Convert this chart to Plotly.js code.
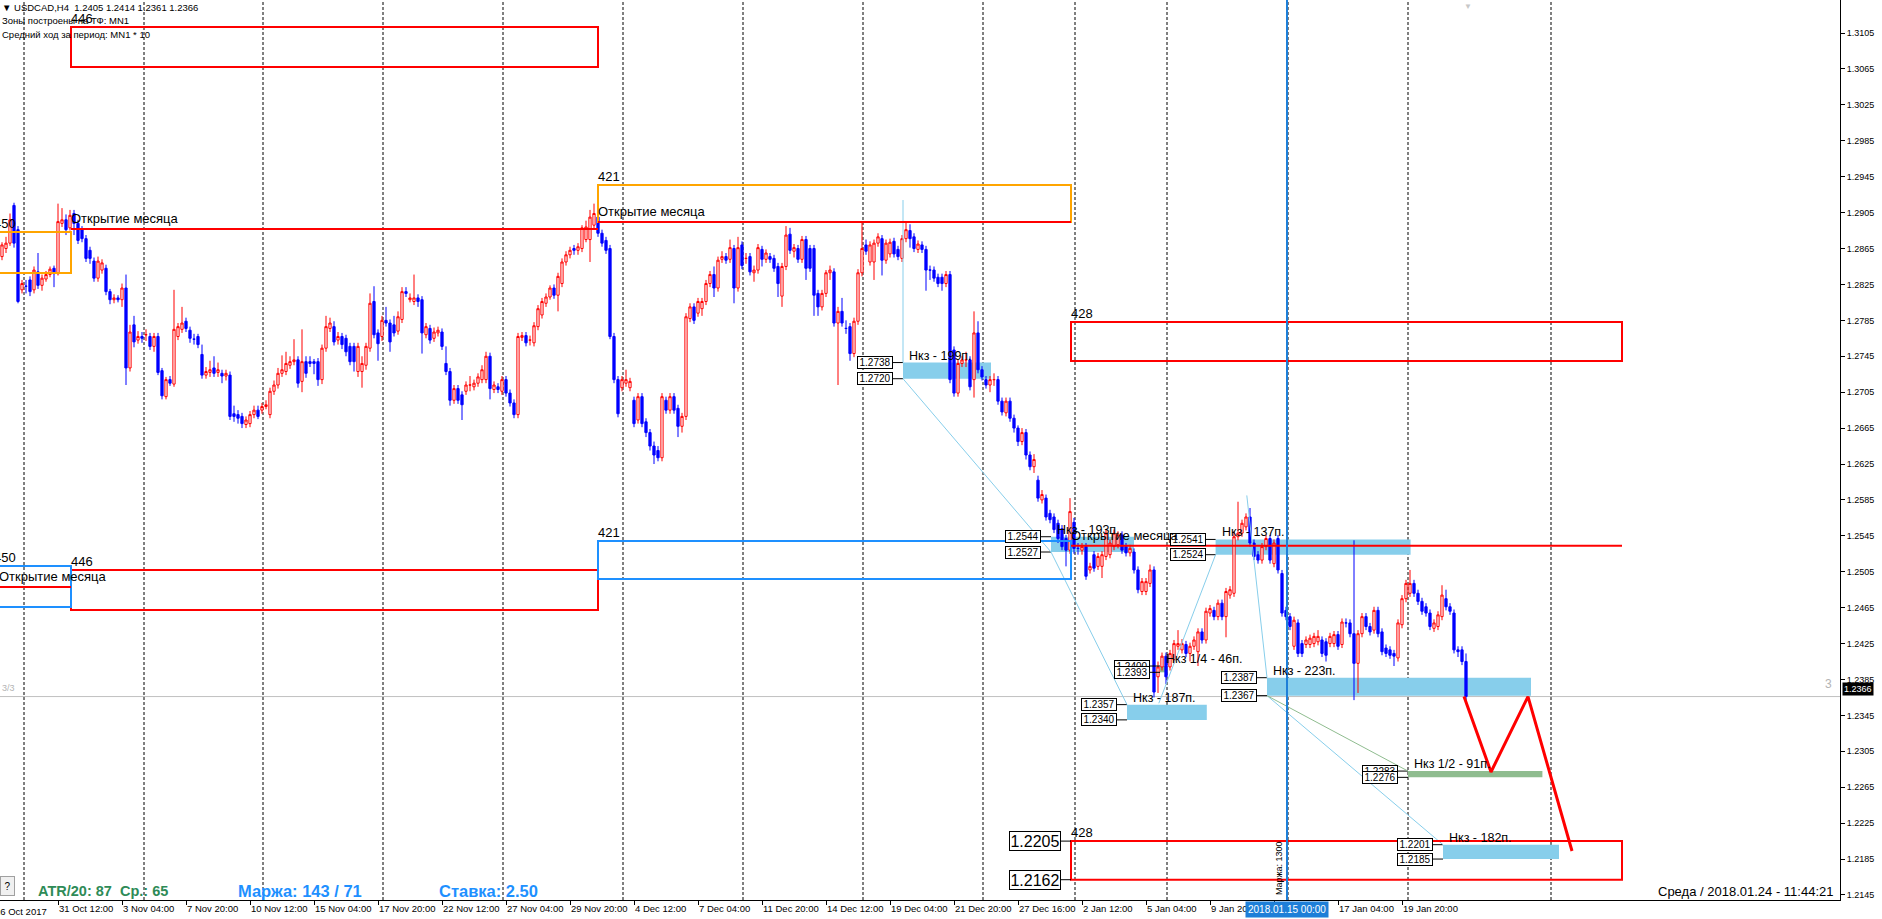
<!DOCTYPE html>
<html><head><meta charset="utf-8">
<script src="https://cdn.plot.ly/plotly-3.0.1.min.js"></script>
<style>html,body{margin:0;padding:0;background:#fff;}#chart{width:1882px;height:919px;}</style>
</head><body><div id="chart"></div>
<script>
// ---------- DATA ----------
// bar index of the first candle, counted from the "31 Oct 12:00" H4 bar
const firstBar = -14;
const open = [
1.2856,1.2865,1.2871,1.2913,1.2886,1.2819,1.2823,1.2830,1.2819,1.2839,
1.2824,1.2831,1.2836,1.2843,1.2837,1.2893,1.2897,1.2888,1.2904,1.2893,
1.2886,1.2876,1.2863,1.2851,1.2832,1.2841,1.2843,1.2817,1.2808,1.2810,
1.2808,1.2821,1.2732,1.2780,1.2763,1.2767,1.2769,1.2767,1.2756,1.2767,
1.2729,1.2700,1.2719,1.2714,1.2767,1.2775,1.2784,1.2774,1.2764,1.2767,
1.2747,1.2724,1.2727,1.2732,1.2727,1.2726,1.2723,1.2724,1.2681,1.2680,
1.2678,1.2669,1.2670,1.2680,1.2685,1.2685,1.2689,1.2680,1.2706,1.2713,
1.2726,1.2728,1.2735,1.2739,1.2741,1.2717,1.2739,1.2739,1.2739,1.2739,
1.2719,1.2754,1.2776,1.2778,1.2763,1.2767,1.2765,1.2756,1.2756,1.2728,
1.2728,1.2735,1.2754,1.2806,1.2771,1.2767,1.2785,1.2782,1.2780,1.2773,
1.2786,1.2817,1.2808,1.2806,1.2810,1.2808,1.2769,1.2776,1.2765,1.2771,
1.2772,1.2737,1.2728,1.2696,1.2709,1.2702,1.2706,1.2713,1.2711,1.2715,
1.2719,1.2719,1.2745,1.2708,1.2711,1.2706,1.2719,1.2704,1.2693,1.2680,
1.2766,1.2768,1.2763,1.2760,1.2778,1.2791,1.2804,1.2811,1.2821,1.2813,
1.2826,1.2850,1.2858,1.2865,1.2863,1.2865,1.2875,1.2875,1.2891,1.2900,
1.2882,1.2874,1.2865,1.2767,1.2719,1.2710,1.2715,1.2710,1.2696,1.2674,
1.2700,1.2672,1.2660,1.2645,1.2640,1.2632,1.2696,1.2685,1.2700,1.2687,
1.2667,1.2678,1.2787,1.2800,1.2793,
1.2798,1.2806,1.2826,1.2836,1.2821,1.2853,1.2856,1.2853,1.2865,1.2821,
1.2869,1.2854,1.2856,1.2838,1.2841,1.2864,1.2853,1.2856,1.2854,1.2845,
1.2812,1.2845,1.2881,1.2862,1.2865,1.2853,1.2875,1.2865,1.2865,1.2815,
1.2800,1.2815,1.2838,1.2839,1.2782,1.2795,1.2776,1.2778,1.2748,1.2784,
1.2838,1.2869,1.2850,1.2850,1.2871,1.2876,1.2852,1.2859,1.2873,1.2864,
1.2854,1.2876,1.2885,1.2878,1.2864,1.2869,1.2864,1.2841,1.2841,1.2833,
1.2833,1.2826,1.2836,1.2752,1.2704,1.2737,1.2741,1.2741,1.2719,1.2771,
1.2730,1.2719,1.2713,1.2719,1.2719,1.2695,1.2682,1.2695,1.2676,1.2665,
1.2650,1.2660,1.2635,1.2622,1.2607,1.2585,1.2587,1.2570,1.2566,1.2559,
1.2553,1.2542,1.2529,1.2560,1.2531,1.2529,1.2533,1.2507,1.2524,1.2511,
1.2511,1.2522,1.2524,1.2533,1.2535,1.2546,1.2533,1.2526,1.2527,1.2507,
1.2483,1.2483,1.2492,1.2507,1.2388,1.2399,1.2411,1.2399,1.2407,1.2422,
1.2418,1.2424,1.2414,1.2422,1.2416,1.2438,1.2429,1.2459,1.2462,1.2455,
1.2470,1.2455,1.2479,1.2481,1.2544,1.2548,1.2555,1.2566,1.2537,1.2524,
1.2518,1.2533,1.2542,1.2514,1.2542,1.2503,1.2462,1.2455,1.2422,1.2448,
1.2425,1.2424,1.2424,1.2425,1.2427,1.2429,1.2427,1.2425,1.2425,1.2435,
1.2424,1.2448,1.2448,1.2436,1.2403,1.2436,1.2455,1.2444,1.2440,1.2462,
1.2438,1.2420,1.2418,1.2414,1.2409,1.2446,1.2475,1.2481,1.2492,1.2481,
1.2472,1.2466,1.2459,1.2442,1.2444,1.2455,1.2475,1.2466,1.2459,1.2418,
1.2418,1.2405];
const high = [
1.2872,1.2878,1.2904,1.2916,1.2890,1.2830,1.2830,1.2834,1.2845,1.2860,
1.2836,1.2840,1.2845,1.2846,1.2915,1.2910,1.2903,1.2908,1.2908,1.2897,
1.2890,1.2880,1.2867,1.2855,1.2856,1.2853,1.2847,1.2820,1.2814,1.2813,
1.2826,1.2836,1.2780,1.2790,1.2773,1.2772,1.2775,1.2771,1.2771,1.2771,
1.2732,1.2722,1.2723,1.2819,1.2782,1.2800,1.2788,1.2778,1.2770,1.2770,
1.2758,1.2733,1.2740,1.2745,1.2738,1.2730,1.2730,1.2728,1.2690,1.2685,
1.2682,1.2678,1.2684,1.2690,1.2690,1.2693,1.2696,1.2710,1.2718,1.2732,
1.2746,1.2750,1.2745,1.2764,1.2745,1.2775,1.2745,1.2745,1.2742,1.2743,
1.2758,1.2790,1.2788,1.2784,1.2772,1.2771,1.2769,1.2760,1.2760,1.2760,
1.2745,1.2760,1.2815,1.2823,1.2775,1.2790,1.2800,1.2786,1.2790,1.2795,
1.2822,1.2822,1.2815,1.2836,1.2814,1.2812,1.2782,1.2780,1.2777,1.2778,
1.2776,1.2756,1.2732,1.2713,1.2713,1.2706,1.2717,1.2723,1.2719,1.2726,
1.2735,1.2750,1.2749,1.2717,1.2715,1.2723,1.2723,1.2708,1.2697,1.2771,
1.2772,1.2772,1.2768,1.2783,1.2802,1.2810,1.2815,1.2824,1.2825,1.2838,
1.2854,1.2862,1.2867,1.2869,1.2871,1.2891,1.2896,1.2908,1.2915,1.2904,
1.2886,1.2878,1.2869,1.2771,1.2723,1.2723,1.2730,1.2721,1.2700,1.2704,
1.2704,1.2676,1.2664,1.2650,1.2645,1.2704,1.2700,1.2704,1.2704,1.2691,
1.2682,1.2793,1.2804,1.2804,1.2810,
1.2810,1.2830,1.2840,1.2845,1.2856,1.2862,1.2860,1.2875,1.2869,1.2878,
1.2873,1.2860,1.2860,1.2846,1.2870,1.2868,1.2864,1.2860,1.2858,1.2849,
1.2849,1.2890,1.2888,1.2870,1.2869,1.2879,1.2879,1.2869,1.2869,1.2819,
1.2819,1.2841,1.2846,1.2843,1.2800,1.2810,1.2785,1.2782,1.2788,1.2842,
1.2895,1.2875,1.2873,1.2875,1.2882,1.2880,1.2875,1.2876,1.2877,1.2868,
1.2880,1.2895,1.2892,1.2882,1.2874,1.2873,1.2868,1.2846,1.2845,1.2837,
1.2837,1.2840,1.2840,1.2756,1.2741,1.2745,1.2750,1.2745,1.2795,1.2784,
1.2734,1.2723,1.2723,1.2726,1.2723,1.2699,1.2699,1.2699,1.2680,1.2668,
1.2665,1.2664,1.2639,1.2636,1.2612,1.2596,1.2591,1.2574,1.2570,1.2563,
1.2557,1.2546,1.2587,1.2565,1.2537,1.2537,1.2537,1.2515,1.2528,1.2526,
1.2528,1.2552,1.2541,1.2552,1.2550,1.2550,1.2537,1.2535,1.2531,1.2511,
1.2498,1.2498,1.2513,1.2511,1.2405,1.2415,1.2415,1.2418,1.2429,1.2440,
1.2430,1.2428,1.2426,1.2433,1.2442,1.2442,1.2465,1.2468,1.2466,1.2474,
1.2474,1.2487,1.2489,1.2550,1.2583,1.2563,1.2570,1.2576,1.2541,1.2528,
1.2537,1.2546,1.2546,1.2541,1.2546,1.2507,1.2466,1.2459,1.2455,1.2452,
1.2429,1.2433,1.2435,1.2437,1.2440,1.2433,1.2431,1.2437,1.2439,1.2439,
1.2453,1.2453,1.2452,1.2540,1.2440,1.2459,1.2459,1.2448,1.2466,1.2466,
1.2442,1.2424,1.2422,1.2418,1.2452,1.2479,1.2496,1.2507,1.2496,1.2485,
1.2476,1.2470,1.2463,1.2452,1.2461,1.2490,1.2485,1.2470,1.2463,1.2422,
1.2422,1.2414];
const low = [
1.2852,1.2860,1.2868,1.2866,1.2804,1.2815,1.2815,1.2812,1.2815,1.2820,
1.2818,1.2828,1.2833,1.2822,1.2835,1.2889,1.2880,1.2885,1.2880,1.2870,
1.2872,1.2850,1.2848,1.2828,1.2828,1.2837,1.2813,1.2803,1.2804,1.2805,
1.2800,1.2713,1.2728,1.2755,1.2759,1.2760,1.2762,1.2752,1.2750,1.2724,
1.2697,1.2697,1.2712,1.2711,1.2763,1.2771,1.2772,1.2760,1.2758,1.2754,
1.2720,1.2720,1.2722,1.2722,1.2722,1.2715,1.2718,1.2674,1.2672,1.2670,
1.2665,1.2665,1.2666,1.2676,1.2675,1.2681,1.2686,1.2676,1.2702,1.2709,
1.2722,1.2724,1.2731,1.2735,1.2710,1.2705,1.2721,1.2733,1.2725,1.2712,
1.2714,1.2750,1.2772,1.2757,1.2758,1.2753,1.2745,1.2735,1.2728,1.2722,
1.2710,1.2730,1.2750,1.2765,1.2740,1.2762,1.2778,1.2750,1.2767,1.2769,
1.2782,1.2811,1.2805,1.2802,1.2800,1.2748,1.2765,1.2759,1.2761,1.2767,
1.2752,1.2724,1.2690,1.2692,1.2692,1.2674,1.2702,1.2706,1.2707,1.2711,
1.2715,1.2715,1.2697,1.2704,1.2704,1.2702,1.2700,1.2689,1.2676,1.2676,
1.2762,1.2756,1.2757,1.2756,1.2774,1.2787,1.2800,1.2808,1.2809,1.2795,
1.2822,1.2846,1.2854,1.2858,1.2858,1.2861,1.2872,1.2850,1.2887,1.2878,
1.2867,1.2859,1.2764,1.2715,1.2677,1.2706,1.2711,1.2706,1.2666,1.2670,
1.2666,1.2655,1.2640,1.2625,1.2628,1.2628,1.2681,1.2681,1.2681,1.2655,
1.2660,1.2674,1.2783,1.2781,1.2789,
1.2790,1.2802,1.2822,1.2811,1.2817,1.2849,1.2848,1.2849,1.2804,1.2817,
1.2842,1.2848,1.2835,1.2828,1.2837,1.2845,1.2849,1.2849,1.2839,1.2811,
1.2800,1.2841,1.2859,1.2855,1.2849,1.2849,1.2830,1.2839,1.2790,1.2790,
1.2796,1.2811,1.2830,1.2778,1.2713,1.2778,1.2770,1.2740,1.2744,1.2780,
1.2834,1.2858,1.2846,1.2830,1.2867,1.2835,1.2848,1.2855,1.2855,1.2852,
1.2850,1.2872,1.2866,1.2861,1.2860,1.2860,1.2818,1.2830,1.2828,1.2822,
1.2818,1.2822,1.2715,1.2700,1.2700,1.2733,1.2733,1.2707,1.2699,1.2726,
1.2718,1.2709,1.2705,1.2712,1.2691,1.2679,1.2678,1.2672,1.2660,1.2645,
1.2646,1.2630,1.2618,1.2615,1.2583,1.2581,1.2562,1.2559,1.2548,1.2537,
1.2529,1.2511,1.2525,1.2525,1.2524,1.2524,1.2496,1.2503,1.2505,1.2507,
1.2498,1.2518,1.2520,1.2529,1.2531,1.2525,1.2522,1.2522,1.2503,1.2481,
1.2479,1.2479,1.2488,1.2365,1.2370,1.2395,1.2380,1.2395,1.2403,1.2418,
1.2414,1.2410,1.2405,1.2418,1.2400,1.2425,1.2425,1.2455,1.2451,1.2451,
1.2451,1.2432,1.2475,1.2477,1.2540,1.2544,1.2551,1.2533,1.2518,1.2514,
1.2514,1.2529,1.2514,1.2510,1.2503,1.2455,1.2451,1.2440,1.2418,1.2410,
1.2410,1.2420,1.2420,1.2421,1.2423,1.2410,1.2405,1.2421,1.2421,1.2418,
1.2420,1.2443,1.2432,1.2362,1.2370,1.2432,1.2440,1.2434,1.2436,1.2432,
1.2412,1.2410,1.2408,1.2400,1.2405,1.2442,1.2471,1.2477,1.2477,1.2468,
1.2457,1.2455,1.2440,1.2438,1.2440,1.2451,1.2462,1.2457,1.2414,1.2410,
1.2401,1.2361];
const close = [
1.2869,1.2871,1.2897,1.2871,1.2806,1.2826,1.2823,1.2817,1.2841,1.2824,
1.2832,1.2836,1.2842,1.2837,1.2895,1.2897,1.2886,1.2902,1.2893,1.2874,
1.2876,1.2854,1.2854,1.2832,1.2851,1.2849,1.2817,1.2808,1.2810,1.2808,
1.2821,1.2732,1.2772,1.2761,1.2767,1.2765,1.2769,1.2756,1.2767,1.2727,
1.2701,1.2719,1.2715,1.2775,1.2778,1.2782,1.2776,1.2765,1.2764,1.2758,
1.2724,1.2728,1.2730,1.2726,1.2730,1.2723,1.2726,1.2678,1.2678,1.2676,
1.2670,1.2674,1.2680,1.2685,1.2678,1.2689,1.2691,1.2706,1.2713,1.2726,
1.2730,1.2737,1.2739,1.2741,1.2715,1.2739,1.2726,1.2737,1.2737,1.2719,
1.2754,1.2778,1.2782,1.2761,1.2767,1.2758,1.2750,1.2739,1.2739,1.2756,
1.2737,1.2756,1.2804,1.2769,1.2759,1.2785,1.2782,1.2761,1.2771,1.2789,
1.2817,1.2815,1.2810,1.2810,1.2806,1.2771,1.2778,1.2763,1.2772,1.2774,
1.2756,1.2728,1.2696,1.2709,1.2696,1.2691,1.2713,1.2713,1.2715,1.2722,
1.2730,1.2745,1.2709,1.2713,1.2708,1.2719,1.2704,1.2693,1.2680,1.2767,
1.2768,1.2760,1.2763,1.2779,1.2798,1.2806,1.2811,1.2821,1.2813,1.2834,
1.2850,1.2858,1.2863,1.2863,1.2867,1.2888,1.2889,1.2900,1.2904,1.2882,
1.2871,1.2863,1.2767,1.2719,1.2681,1.2719,1.2719,1.2717,1.2670,1.2700,
1.2670,1.2660,1.2645,1.2635,1.2632,1.2700,1.2685,1.2700,1.2685,1.2667,
1.2678,1.2789,1.2800,1.2785,1.2806,
1.2806,1.2826,1.2836,1.2821,1.2852,1.2856,1.2852,1.2866,1.2821,1.2866,
1.2846,1.2854,1.2839,1.2841,1.2866,1.2853,1.2860,1.2853,1.2843,1.2826,
1.2845,1.2880,1.2863,1.2866,1.2853,1.2875,1.2843,1.2843,1.2813,1.2800,
1.2815,1.2838,1.2841,1.2782,1.2795,1.2782,1.2776,1.2748,1.2784,1.2838,
1.2865,1.2862,1.2869,1.2871,1.2878,1.2852,1.2871,1.2872,1.2859,1.2856,
1.2876,1.2886,1.2876,1.2865,1.2870,1.2864,1.2841,1.2841,1.2832,1.2826,
1.2826,1.2836,1.2719,1.2704,1.2737,1.2741,1.2741,1.2711,1.2771,1.2730,
1.2722,1.2713,1.2719,1.2719,1.2695,1.2683,1.2695,1.2676,1.2665,1.2650,
1.2660,1.2635,1.2622,1.2630,1.2587,1.2591,1.2566,1.2563,1.2552,1.2542,
1.2533,1.2529,1.2572,1.2531,1.2531,1.2533,1.2500,1.2511,1.2509,1.2522,
1.2524,1.2548,1.2537,1.2548,1.2546,1.2529,1.2526,1.2531,1.2507,1.2485,
1.2494,1.2494,1.2507,1.2371,1.2399,1.2411,1.2388,1.2414,1.2425,1.2425,
1.2425,1.2414,1.2422,1.2429,1.2438,1.2429,1.2461,1.2464,1.2455,1.2470,
1.2455,1.2483,1.2485,1.2544,1.2548,1.2559,1.2566,1.2537,1.2522,1.2518,
1.2533,1.2542,1.2518,1.2537,1.2507,1.2459,1.2455,1.2444,1.2451,1.2414,
1.2414,1.2429,1.2431,1.2433,1.2433,1.2414,1.2412,1.2433,1.2435,1.2422,
1.2449,1.2448,1.2436,1.2403,1.2436,1.2455,1.2444,1.2438,1.2462,1.2436,
1.2416,1.2414,1.2412,1.2411,1.2448,1.2475,1.2492,1.2492,1.2481,1.2472,
1.2461,1.2459,1.2444,1.2448,1.2457,1.2479,1.2466,1.2461,1.2418,1.2416,
1.2405,1.2366];

// time axis labels (one every 16 H4 bars)
const timeTickBars = [0,16,32,48,64,80,96,112,128,144,160,176,192,208,224,240,256,272,288,304,320,336];
const timeTickLabels = ["31 Oct 12:00","3 Nov 04:00","7 Nov 20:00","10 Nov 12:00","15 Nov 04:00","17 Nov 20:00",
 "22 Nov 12:00","27 Nov 04:00","29 Nov 20:00","4 Dec 12:00","7 Dec 04:00","11 Dec 20:00","14 Dec 12:00",
 "19 Dec 04:00","21 Dec 20:00","27 Dec 16:00","2 Jan 12:00","5 Jan 04:00","9 Jan 20:00","","17 Jan 04:00","19 Jan 20:00"];
const firstDateLabel = "26 Oct 2017";
// weekly separators (bar positions)
const weekSeparators = [-8.5,21.5,51.25,81.25,111.25,141.25,171.25,201.25,231.25,254.25,277.25,307.5,337.5,373.25];
// price axis
const priceTicks = [1.2145,1.2185,1.2225,1.2265,1.2305,1.2345,1.2385,1.2425,1.2465,1.2505,1.2545,1.2585,1.2625,
 1.2665,1.2705,1.2745,1.2785,1.2825,1.2865,1.2905,1.2945,1.2985,1.3025,1.3065,1.3105];
const lastPrice = 1.2366;

// monthly zones (boxes)
const boxNames  = ["446","450","421","428","446","450","421","428"];
const boxStart  = [3.25,-16,135,253.25,3.25,-16,135,253.25];
const boxEnd    = [135,3.25,253.25,391,135,3.25,253.25,391];
const boxTop    = [1.31117,1.28834,1.29357,1.27831,1.25069,1.25114,1.25392,1.2205];
const boxBottom = [1.30671,1.28377,1.28945,1.27397,1.24624,1.24657,1.24969,1.2162];
const boxColors = ["#ff0000","#ffa500","#ffa500","#ff0000","#ff0000","#1e90ff","#1e90ff","#ff0000"];
// month open lines
const monthOpenPrice = [1.2488,1.28867,1.28945,1.2534];
const monthOpenStart = [-16,3.25,135,253.25];
const monthOpenEnd   = [3.25,135,253.25,391];
// target zones "Нкз"
const zoneNames  = ["Нкз - 199п.","Нкз - 193п.","Нкз - 137п.","Нкз 1/4 - 46п.","Нкз - 187п.","Нкз - 223п.","Нкз 1/2 - 91п.","Нкз - 182п."];
const zoneTop    = [1.2738,1.2544,1.2541,1.2400,1.2357,1.2387,1.2283,1.2201];
const zoneBottom = [1.2720,1.2527,1.2524,1.2393,1.2340,1.2367,1.2276,1.2185];
const zoneStart  = [211.25,248.25,289.4,275.5,267.25,302.25,337.5,346.25];
const zoneEnd    = [233.25,269,338.15,277.5,287.2,368.25,371.1,375.25];
const zoneColors = ["#87ceeb","#87ceeb","#87ceeb","#8fbc8f","#87ceeb","#87ceeb","#8fbc8f","#87ceeb"];
// thin connector lines between zones
const linkX0 = [211.25,211.25,248.25,275.2,297.2,302.25,302.25];
const linkY0 = [1.2919,1.2720,1.2527,1.23585,1.2590,1.2367,1.2367];
const linkX1 = [211.25,248.25,267.25,289.4,302.25,346.25,337.5];
const linkY1 = [1.2738,1.2527,1.2357,1.2524,1.2387,1.2201,1.2283];
const linkColors = ["#87ceeb","#87ceeb","#87ceeb","#87ceeb","#87ceeb","#87ceeb","#8fbc8f"];
// forecast zigzag
const projX = [351.5,358.25,367.5,378.5];
const projY = [1.2366,1.2282,1.2366,1.2194];
// marked date
const markBar = 307.25;

// ---------- LAYOUT ----------
const xMin = -14.5, xMax = 445.5, yMin = 1.21394, yMax = 1.31418;
const FONT = "Liberation Sans, Arial, sans-serif";
const PW = 1840, PH = 900;
const barX = open.map((v,i)=>firstBar+i);
const xPaper = m => (m - xMin)/(xMax - xMin);

const shapes = [], annotations = [];
weekSeparators.forEach(b => shapes.push({type:'line',xref:'x',yref:'paper',x0:b,x1:b,y0:0,y1:1,layer:'below',
  line:{color:'#000',width:1,dash:'3px,2px'}}));
shapes.push({type:'line',xref:'paper',yref:'y',x0:0,x1:1,y0:lastPrice,y1:lastPrice,layer:'below',line:{color:'#c0c0c0',width:1}});

zoneNames.forEach((n,i)=>{
  shapes.push({type:'rect',xref:'x',yref:'y',x0:zoneStart[i],x1:zoneEnd[i],y0:zoneBottom[i],y1:zoneTop[i],
    fillcolor:zoneColors[i],line:{width:0},layer:'below'});
  [zoneTop[i],zoneBottom[i]].forEach(p=>{
    shapes.push({type:'line',xref:'x',yref:'y',x0:zoneStart[i]-2.5,x1:zoneStart[i],y0:p,y1:p,line:{color:'#000',width:1}});
    annotations.push({xref:'x',yref:'y',x:zoneStart[i]-2.5,y:p,xanchor:'right',yanchor:'middle',showarrow:false,
      text:p.toFixed(4),font:{family:FONT,size:10,color:'#000'},bgcolor:'#fff',bordercolor:'#000',borderwidth:1,borderpad:0,width:34,height:11});
  });
  annotations.push({xref:'x',yref:'y',x:zoneStart[i]+1.0,y:zoneTop[i],xanchor:'left',yanchor:'bottom',showarrow:false,
    text:n,font:{family:FONT,size:12.5,color:'#000'},yshift:-2});
});
linkX0.forEach((x,i)=>shapes.push({type:'line',xref:'x',yref:'y',x0:x,y0:linkY0[i],x1:linkX1[i],y1:linkY1[i],
  line:{color:linkColors[i],width:1}}));

boxNames.forEach((n,i)=>{
  shapes.push({type:'rect',xref:'x',yref:'y',x0:boxStart[i],x1:boxEnd[i],y0:boxBottom[i],y1:boxTop[i],
    line:{color:boxColors[i],width:2},fillcolor:'rgba(0,0,0,0)'});
  annotations.push({xref:'paper',yref:'y',x:xPaper(boxStart[i]),y:boxTop[i],xanchor:'left',yanchor:'bottom',showarrow:false,
    text:n,font:{family:FONT,size:13,color:'#000'},yshift:-1,xshift:-2});
});
// big price labels of the lower 428 zone
[boxTop[7],boxBottom[7]].forEach(p=>{
  shapes.push({type:'line',xref:'x',yref:'y',x0:boxStart[7]-2.6,x1:boxStart[7],y0:p,y1:p,line:{color:'#000',width:1}});
  annotations.push({xref:'x',yref:'y',x:boxStart[7]-2.6,y:p,xanchor:'right',yanchor:'middle',showarrow:false,
    text:p.toFixed(4),font:{family:FONT,size:16,color:'#000'},bgcolor:'#fff',bordercolor:'#000',borderwidth:1,borderpad:0,width:50,height:18});
});
monthOpenPrice.forEach((p,i)=>{
  shapes.push({type:'line',xref:'x',yref:'y',x0:monthOpenStart[i],x1:monthOpenEnd[i],y0:p,y1:p,line:{color:'#ff0000',width:2}});
  annotations.push({xref:'paper',yref:'y',x:xPaper(monthOpenStart[i]),y:p,xanchor:'left',yanchor:'bottom',showarrow:false,
    text:'Открытие месяца',font:{family:FONT,size:13,color:'#000'},xshift:i===0?3:-2,yshift:1});
});
shapes.push({type:'line',xref:'x',yref:'paper',x0:markBar,x1:markBar,y0:0,y1:1,line:{color:'#1e7fd8',width:2}});
annotations.push({xref:'x',yref:'y',x:markBar,y:1.2175,xanchor:'right',yanchor:'middle',showarrow:false,textangle:-90,
  text:'Маржа: 1300',font:{family:FONT,size:9,color:'#000'},xshift:-1});
annotations.push({xref:'x',yref:'paper',x:markBar,y:0,xanchor:'center',yanchor:'top',showarrow:false,
  text:'2018.01.15 00:00',font:{family:FONT,size:10,color:'#fff'},bgcolor:'#1e7fd8',borderpad:2,yshift:-1});
annotations.push({xref:'paper',yref:'paper',x:-7/PW,y:0,xanchor:'left',yanchor:'top',showarrow:false,
  text:firstDateLabel,font:{family:FONT,size:9.5,color:'#000'},yshift:-4});

// price tag
annotations.push({xref:'paper',yref:'y',x:1,y:lastPrice,xanchor:'left',yanchor:'middle',showarrow:false,xshift:2,yshift:8,
  text:lastPrice.toFixed(4),font:{family:FONT,size:9,color:'#fff'},bgcolor:'#000',borderpad:1});
annotations.push({xref:'paper',yref:'y',x:0,y:lastPrice,xanchor:'left',yanchor:'bottom',showarrow:false,
  text:'3/3',font:{family:FONT,size:9,color:'#b4b4b4'},yshift:2});
annotations.push({xref:'paper',yref:'y',x:1,y:lastPrice,xanchor:'right',yanchor:'bottom',showarrow:false,
  text:'3',font:{family:FONT,size:12,color:'#b4b4b4'},xshift:-6,yshift:4});

// header
const hdr = ['▼ USDCAD,H4  1.2405 1.2414 1.2361 1.2366','Зоны построены на ТФ: MN1','Средний ход за период: MN1 * 10'];
const hdrY = [8,21,34];
hdr.forEach((t,i)=>annotations.push({xref:'paper',yref:'paper',x:0,y:1-hdrY[i]/PH,xanchor:'left',yanchor:'middle',showarrow:false,
  text:t,font:{family:FONT,size:9.5,color:'#000'}}));
annotations.push({xref:'x',yref:'paper',x:352.5,y:1,xanchor:'center',yanchor:'top',showarrow:false,
  text:'▼',font:{family:FONT,size:8,color:'#c8c8c8'}});

// footer
const fy = 1-891/PH;
annotations.push({xref:'paper',yref:'paper',x:0,y:1-886/PH,xanchor:'left',yanchor:'middle',showarrow:false,
  text:'?',font:{family:FONT,size:10,color:'#000'},bgcolor:'#f0f0f0',bordercolor:'#a0a0a0',borderwidth:1,width:13,height:18,borderpad:0});
annotations.push({xref:'paper',yref:'paper',x:36/PW,y:fy,xanchor:'left',yanchor:'middle',showarrow:false,
  text:'ATR/20: 87  Ср.: 65',font:{family:FONT,size:14.5,color:'#2e8b57',weight:'bold'}});
annotations.push({xref:'paper',yref:'paper',x:236/PW,y:fy,xanchor:'left',yanchor:'middle',showarrow:false,
  text:'Маржа: 143 / 71',font:{family:FONT,size:16.5,color:'#1e90ff',weight:'bold'}});
annotations.push({xref:'paper',yref:'paper',x:437/PW,y:fy,xanchor:'left',yanchor:'middle',showarrow:false,
  text:'Ставка: 2.50',font:{family:FONT,size:16.5,color:'#1e90ff',weight:'bold'}});
annotations.push({xref:'paper',yref:'paper',x:1835/PW,y:fy,xanchor:'right',yanchor:'middle',showarrow:false,
  text:'Среда / 2018.01.24 - 11:44:21',font:{family:FONT,size:13,color:'#000'}});

const traces = [
  {type:'candlestick',x:barX,open:open,high:high,low:low,close:close,whiskerwidth:0,hoverinfo:'skip',
   increasing:{line:{color:'#ff0000',width:1},fillcolor:'#ffffff'},
   decreasing:{line:{color:'#0000ff',width:1},fillcolor:'#0000ff'}},
  {type:'scatter',mode:'lines',x:projX,y:projY,line:{color:'#ff0000',width:3},hoverinfo:'skip'}
];

const layout = {
  width:1882,height:919,margin:{l:0,r:42,t:0,b:19,pad:0},
  paper_bgcolor:'#fff',plot_bgcolor:'#fff',showlegend:false,hovermode:false,dragmode:false,boxgap:0.2,
  font:{family:FONT,size:9,color:'#000'},
  xaxis:{range:[xMin,xMax],autorange:false,rangeslider:{visible:false},showgrid:false,zeroline:false,
    showline:true,linecolor:'#000',linewidth:1,mirror:true,ticks:'outside',ticklen:4,tickcolor:'#000',
    tickvals:timeTickBars,ticktext:timeTickLabels,ticklabelposition:'outside right',tickangle:0,automargin:false,
    tickfont:{family:FONT,size:9.5,color:'#000'}},
  yaxis:{range:[yMin,yMax],autorange:false,side:'right',showgrid:false,zeroline:false,showline:true,
    linecolor:'#000',linewidth:1,ticks:'outside',ticklen:4,tickcolor:'#000',tickvals:priceTicks,
    ticktext:priceTicks.map(v=>v.toFixed(4)),automargin:false,tickfont:{family:FONT,size:9,color:'#000'}},
  shapes:shapes,annotations:annotations
};
Plotly.newPlot('chart',traces,layout,{displayModeBar:false,staticPlot:true});
</script></body></html>
